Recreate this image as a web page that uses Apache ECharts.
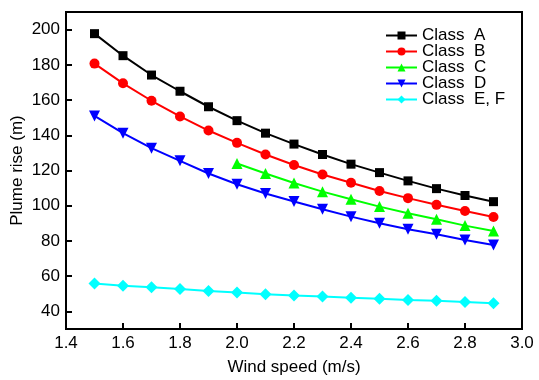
<!DOCTYPE html>
<html>
<head>
<meta charset="utf-8">
<script src="https://cdn.jsdelivr.net/npm/echarts@6/dist/echarts.min.js"></script>
<style>
  html, body { margin: 0; padding: 0; background: #fff; }
  #chart { width: 539px; height: 380px; }
</style>
</head>
<body>
<div id="chart"></div>
<script>
// wind speed (m/s)
var windSpeed = [1.5, 1.6, 1.7, 1.8, 1.9, 2.0, 2.1, 2.2, 2.3, 2.4, 2.5, 2.6, 2.7, 2.8, 2.9];
// plume rise (m) per stability class
var classA = [197.7, 185.2, 174.2, 165.0, 156.2, 148.3, 141.2, 135.0, 129.1, 123.6, 118.8, 114.1, 109.7, 105.8, 102.3];
var classB = [180.7, 169.5, 159.6, 150.7, 142.7, 135.7, 129.1, 123.1, 117.7, 113.0, 108.4, 104.3, 100.5, 97.0, 93.6];
var classC = [null, null, null, null, null, 124.0, 118.3, 112.9, 108.0, 103.7, 99.5, 95.7, 92.3, 88.7, 85.7];
var classD = [151.0, 141.2, 132.7, 125.5, 118.3, 112.2, 106.9, 102.4, 98.0, 93.8, 90.0, 86.6, 83.8, 80.5, 77.7];
var classEF = [55.8, 54.6, 53.7, 52.7, 51.6, 50.7, 49.8, 49.0, 48.4, 47.8, 47.2, 46.4, 46.0, 45.3, 44.6];
var yTicks = [40, 60, 80, 100, 120, 140, 160, 180, 200];

function pairs(vals) {
    var out = [];
    for (var i = 0; i < windSpeed.length; i++) {
        if (vals[i] != null) out.push([windSpeed[i], vals[i]]);
    }
    return out;
}

var font = '"Liberation Sans", Arial, sans-serif';

function mkSeries(name, vals, color, symbol, size, rotate) {
    return {
        name: name,
        type: 'line',
        data: pairs(vals),
        symbol: symbol,
        symbolSize: size,
        symbolRotate: rotate || 0,
        lineStyle: {color: color, width: 2},
        itemStyle: {color: color},
        emphasis: {disabled: true}
    };
}

var myChart = echarts.init(document.getElementById('chart'));
var option = {
    animation: false,
    textStyle: {fontFamily: font},
    grid: {
        left: 66,
        right: 17,
        top: 12,
        bottom: 51,
        outerBoundsMode: 'none',
        containLabel: false,
        show: true,
        borderColor: '#000',
        borderWidth: 2
    },
    legend: {
        orient: 'vertical',
        left: 385,
        top: 27,
        padding: 0,
        itemWidth: 31,
        itemHeight: 10,
        itemGap: -1,
        textStyle: {fontFamily: font, fontSize: 17, color: '#000', lineHeight: 16},
        data: ['Class  A', 'Class  B', 'Class  C', 'Class  D', 'Class  E, F']
    },
    xAxis: {
        type: 'value',
        min: 1.4,
        max: 3.0,
        interval: 0.2,
        name: 'Wind speed (m/s)',
        nameLocation: 'middle',
        nameGap: 30,
        nameMoveOverlap: false,
        nameTextStyle: {fontFamily: font, fontSize: 17, color: '#000'},
        axisLine: {lineStyle: {color: '#000', width: 2}},
        axisTick: {inside: true, length: 6, lineStyle: {color: '#000', width: 2}},
        axisLabel: {
            fontFamily: font, fontSize: 17, color: '#000', margin: 6,
            formatter: function (v) { return v.toFixed(1); }
        },
        splitLine: {show: false}
    },
    yAxis: {
        type: 'value',
        min: 30,
        max: 210,
        name: 'Plume rise (m)',
        nameLocation: 'middle',
        nameGap: 40,
        nameMoveOverlap: false,
        nameTextStyle: {fontFamily: font, fontSize: 17, color: '#000'},
        axisLine: {show: true, lineStyle: {color: '#000', width: 2}},
        axisTick: {show: true, inside: true, length: 6, customValues: yTicks, lineStyle: {color: '#000', width: 2}},
        axisLabel: {fontFamily: font, fontSize: 17, color: '#000', margin: 6, customValues: yTicks},
        splitLine: {show: false}
    },
    series: [
        mkSeries('Class  A', classA, '#000000', 'rect', 9),
        mkSeries('Class  B', classB, '#ff0000', 'circle', 10),
        mkSeries('Class  C', classC, '#00ff00', 'triangle', 11),
        mkSeries('Class  D', classD, '#0000ff', 'triangle', 11, 180),
        mkSeries('Class  E, F', classEF, '#00ffff', 'diamond', 12)
    ]
};
myChart.setOption(option);
</script>
</body>
</html>
